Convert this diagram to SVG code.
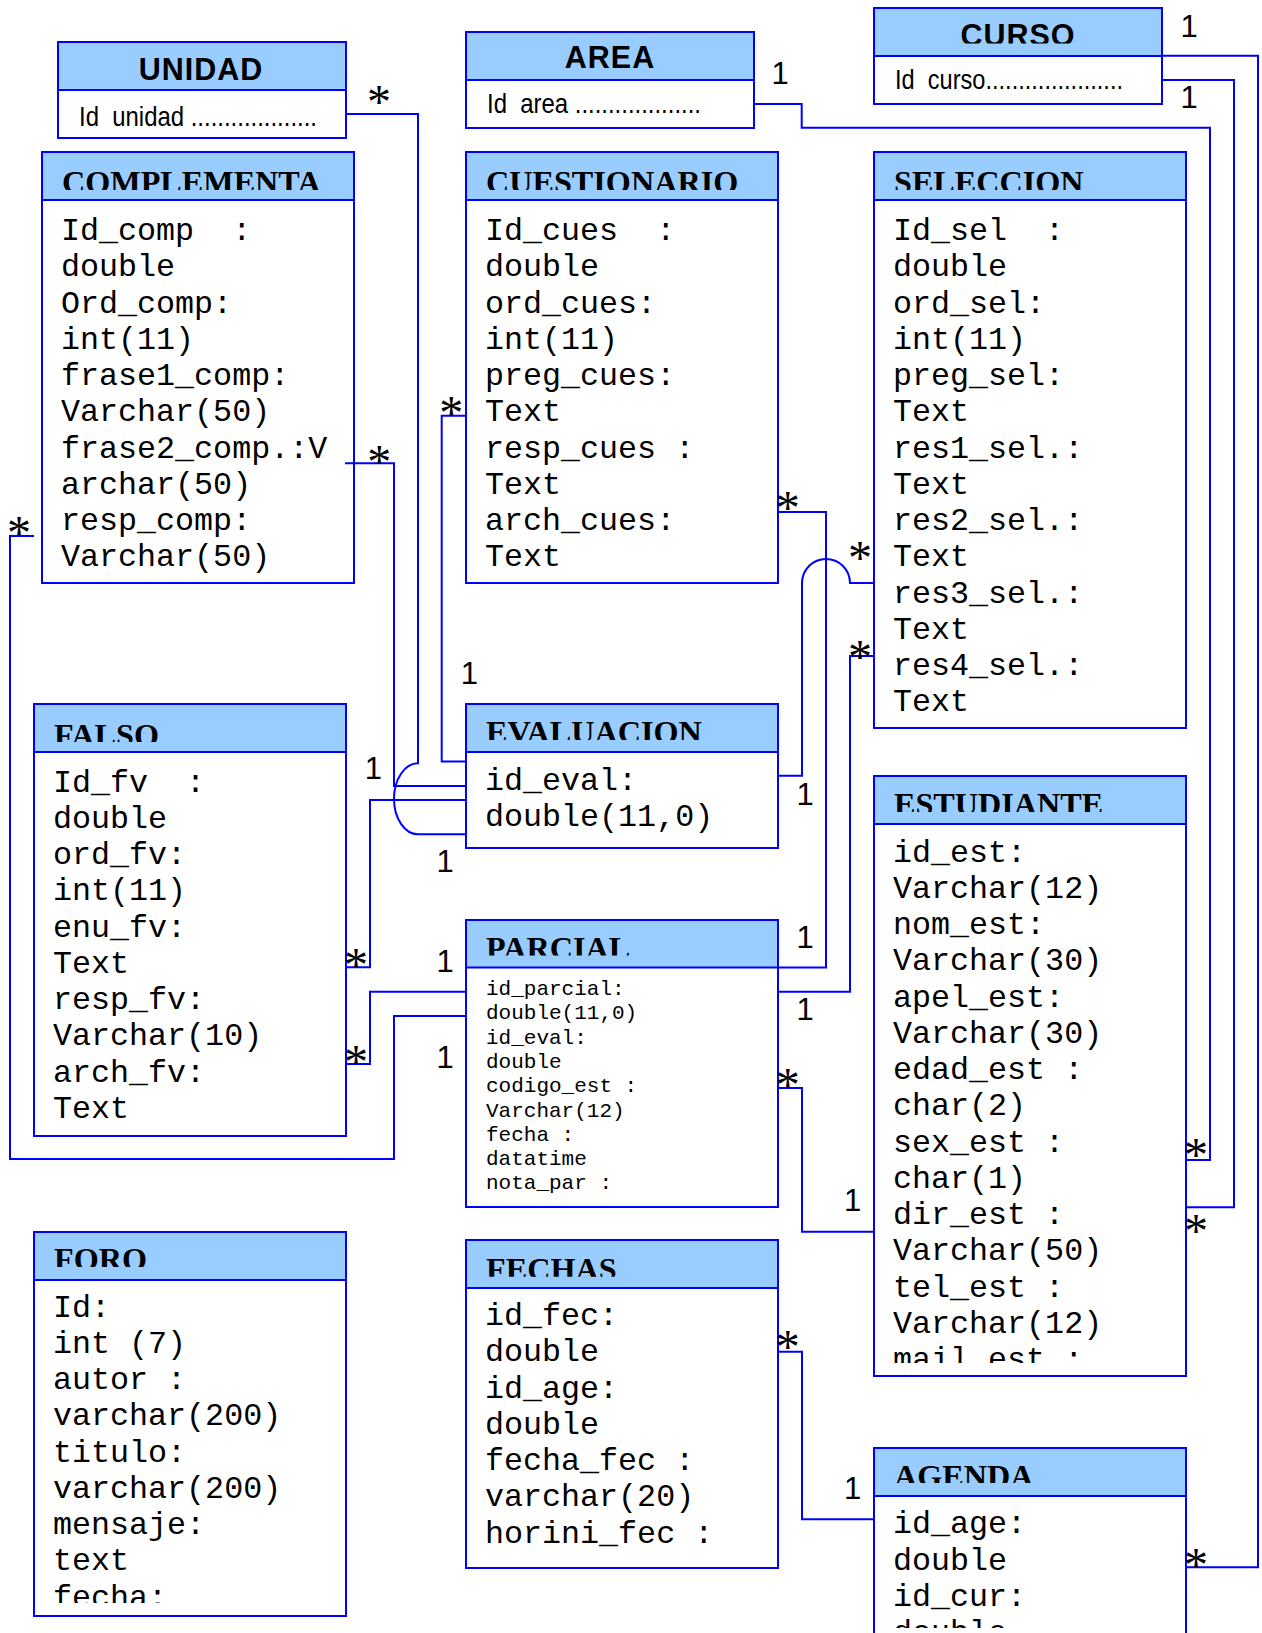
<svg xmlns="http://www.w3.org/2000/svg" width="1262" height="1633" viewBox="0 0 1262 1633">
<style>
  .box { fill: #ffffff; stroke: #0000ff; stroke-width: 2; }
  .hdr { fill: #99ccff; stroke: #0000ff; stroke-width: 2; }
  .title { font-family: "Liberation Serif", "Times New Roman", serif; font-weight: bold; font-size: 32.2px; fill: #000; }
  .stitle { font-family: "Liberation Sans", Arial, sans-serif; font-weight: bold; font-size: 30.5px; letter-spacing: 1px; text-anchor: middle; fill: #000; }
  .key { font-family: "Liberation Sans", Arial, sans-serif; font-size: 28px; fill: #000; }
  .field { font-family: "Liberation Mono", "Courier New", monospace; font-size: 31.7px; fill: #000; }
  .small { font-family: "Liberation Mono", "Courier New", monospace; font-size: 21px; fill: #000; }
  .conn { fill: none; stroke: #0000ff; stroke-width: 2; }
  .one { font-family: "Liberation Sans", Arial, sans-serif; font-size: 31px; text-anchor: middle; fill: #000; }
  .many { font-family: "Liberation Serif", "Times New Roman", serif; font-size: 48px; text-anchor: middle; fill: #000; }
</style>
<defs>
  <clipPath id="cp-curso"><rect x="874" y="8" width="288" height="35.5"/></clipPath>
  <clipPath id="cp-complementa"><rect x="42" y="152" width="312" height="38"/></clipPath>
  <clipPath id="cp-cuestionario"><rect x="466" y="152" width="312" height="38"/></clipPath>
  <clipPath id="cp-seleccion"><rect x="874" y="152" width="312" height="38"/></clipPath>
  <clipPath id="cp-falso"><rect x="34" y="704" width="312" height="38"/></clipPath>
  <clipPath id="cp-evaluacion"><rect x="466" y="704" width="312" height="36"/></clipPath>
  <clipPath id="cp-parcial"><rect x="466" y="920" width="312" height="35.5"/></clipPath>
  <clipPath id="cp-estudiante"><rect x="874" y="776" width="312" height="36"/></clipPath>
  <clipPath id="cp-estudiante-body"><rect x="874" y="824" width="312" height="539"/></clipPath>
  <clipPath id="cp-foro"><rect x="34" y="1232" width="312" height="35"/></clipPath>
  <clipPath id="cp-foro-body"><rect x="34" y="1280" width="312" height="323"/></clipPath>
  <clipPath id="cp-fechas"><rect x="466" y="1240" width="312" height="36.7"/></clipPath>
  <clipPath id="cp-agenda"><rect x="874" y="1448" width="312" height="35"/></clipPath>
  <clipPath id="cp-agenda-body"><rect x="874" y="1496" width="312" height="132"/></clipPath>
</defs>

<rect width="1262" height="1633" fill="#ffffff"/>

<g id="unidad">
  <rect class="box" x="58" y="42" width="288" height="96"/>
  <rect class="hdr" x="58" y="42" width="288" height="48"/>
  <text class="stitle" x="201" y="80">UNIDAD</text>
  <text class="key" x="79" y="126" xml:space="preserve" textLength="238" lengthAdjust="spacingAndGlyphs">Id  unidad ...................</text>
</g>

<g id="area">
  <rect class="box" x="466" y="32" width="288" height="96"/>
  <rect class="hdr" x="466" y="32" width="288" height="48"/>
  <text class="stitle" x="610" y="68.3">AREA</text>
  <text class="key" x="487" y="113.3" xml:space="preserve" textLength="214" lengthAdjust="spacingAndGlyphs">Id  area ...................</text>
</g>

<g id="curso">
  <rect class="box" x="874" y="8" width="288" height="96"/>
  <rect class="hdr" x="874" y="8" width="288" height="48"/>
  <text class="stitle" x="1018" y="46" clip-path="url(#cp-curso)">CURSO</text>
  <text class="key" x="895" y="89.3" xml:space="preserve" textLength="228" lengthAdjust="spacingAndGlyphs">Id  curso.....................</text>
</g>

<g id="complementa">
  <rect class="box" x="42" y="152" width="312" height="431"/>
  <rect class="hdr" x="42" y="152" width="312" height="48"/>
  <text class="title" x="62" y="192.5" clip-path="url(#cp-complementa)">COMPLEMENTA</text>
  <text class="field" xml:space="preserve">
    <tspan x="61" y="240">Id_comp  :</tspan>
    <tspan x="61" y="276.25">double</tspan>
    <tspan x="61" y="312.5">Ord_comp:</tspan>
    <tspan x="61" y="348.75">int(11)</tspan>
    <tspan x="61" y="385">frase1_comp:</tspan>
    <tspan x="61" y="421.25">Varchar(50)</tspan>
    <tspan x="61" y="457.5">frase2_comp.:V</tspan>
    <tspan x="61" y="493.75">archar(50)</tspan>
    <tspan x="61" y="530">resp_comp:</tspan>
    <tspan x="61" y="566.25">Varchar(50)</tspan>
  </text>
</g>

<g id="cuestionario">
  <rect class="box" x="466" y="152" width="312" height="431"/>
  <rect class="hdr" x="466" y="152" width="312" height="48"/>
  <text class="title" x="486" y="192.5" clip-path="url(#cp-cuestionario)">CUESTIONARIO</text>
  <text class="field" xml:space="preserve">
    <tspan x="485" y="240">Id_cues  :</tspan>
    <tspan x="485" y="276.25">double</tspan>
    <tspan x="485" y="312.5">ord_cues:</tspan>
    <tspan x="485" y="348.75">int(11)</tspan>
    <tspan x="485" y="385">preg_cues:</tspan>
    <tspan x="485" y="421.25">Text</tspan>
    <tspan x="485" y="457.5">resp_cues :</tspan>
    <tspan x="485" y="493.75">Text</tspan>
    <tspan x="485" y="530">arch_cues:</tspan>
    <tspan x="485" y="566.25">Text</tspan>
  </text>
</g>

<g id="seleccion">
  <rect class="box" x="874" y="152" width="312" height="576"/>
  <rect class="hdr" x="874" y="152" width="312" height="48"/>
  <text class="title" x="894" y="192.5" clip-path="url(#cp-seleccion)">SELECCION</text>
  <text class="field" xml:space="preserve">
    <tspan x="893" y="240">Id_sel  :</tspan>
    <tspan x="893" y="276.25">double</tspan>
    <tspan x="893" y="312.5">ord_sel:</tspan>
    <tspan x="893" y="348.75">int(11)</tspan>
    <tspan x="893" y="385">preg_sel:</tspan>
    <tspan x="893" y="421.25">Text</tspan>
    <tspan x="893" y="457.5">res1_sel.:</tspan>
    <tspan x="893" y="493.75">Text</tspan>
    <tspan x="893" y="530">res2_sel.:</tspan>
    <tspan x="893" y="566.25">Text</tspan>
    <tspan x="893" y="602.5">res3_sel.:</tspan>
    <tspan x="893" y="638.75">Text</tspan>
    <tspan x="893" y="675">res4_sel.:</tspan>
    <tspan x="893" y="711.25">Text</tspan>
  </text>
</g>

<g id="falso">
  <rect class="box" x="34" y="704" width="312" height="432"/>
  <rect class="hdr" x="34" y="704" width="312" height="48"/>
  <text class="title" x="54" y="745.5" clip-path="url(#cp-falso)">FALSO</text>
  <text class="field" xml:space="preserve">
    <tspan x="53" y="791.7">Id_fv  :</tspan>
    <tspan x="53" y="827.95">double</tspan>
    <tspan x="53" y="864.2">ord_fv:</tspan>
    <tspan x="53" y="900.45">int(11)</tspan>
    <tspan x="53" y="936.7">enu_fv:</tspan>
    <tspan x="53" y="972.95">Text</tspan>
    <tspan x="53" y="1009.2">resp_fv:</tspan>
    <tspan x="53" y="1045.45">Varchar(10)</tspan>
    <tspan x="53" y="1081.7">arch_fv:</tspan>
    <tspan x="53" y="1117.95">Text</tspan>
  </text>
</g>

<g id="evaluacion">
  <rect class="box" x="466" y="704" width="312" height="144"/>
  <rect class="hdr" x="466" y="704" width="312" height="48"/>
  <text class="title" x="486" y="742.5" clip-path="url(#cp-evaluacion)">EVALUACION</text>
  <text class="field">
    <tspan x="485" y="789.5">id_eval:</tspan>
    <tspan x="485" y="826">double(11,0)</tspan>
  </text>
</g>

<g id="parcial">
  <rect class="box" x="466" y="920" width="312" height="287"/>
  <rect class="hdr" x="466" y="920" width="312" height="47.5"/>
  <text class="title" x="486" y="958.5" clip-path="url(#cp-parcial)">PARCIAL</text>
  <text class="small" xml:space="preserve">
    <tspan x="486" y="995">id_parcial:</tspan>
    <tspan x="486" y="1019.3">double(11,0)</tspan>
    <tspan x="486" y="1043.6">id_eval:</tspan>
    <tspan x="486" y="1067.9">double</tspan>
    <tspan x="486" y="1092.2">codigo_est :</tspan>
    <tspan x="486" y="1116.5">Varchar(12)</tspan>
    <tspan x="486" y="1140.8">fecha :</tspan>
    <tspan x="486" y="1165.1">datatime</tspan>
    <tspan x="486" y="1189.4">nota_par :</tspan>
  </text>
</g>

<g id="estudiante">
  <rect class="box" x="874" y="776" width="312" height="600"/>
  <rect class="hdr" x="874" y="776" width="312" height="48"/>
  <text class="title" x="894" y="815" clip-path="url(#cp-estudiante)">ESTUDIANTE</text>
  <text class="field" xml:space="preserve" clip-path="url(#cp-estudiante-body)">
    <tspan x="893" y="861.7">id_est:</tspan>
    <tspan x="893" y="897.95">Varchar(12)</tspan>
    <tspan x="893" y="934.2">nom_est:</tspan>
    <tspan x="893" y="970.45">Varchar(30)</tspan>
    <tspan x="893" y="1006.7">apel_est:</tspan>
    <tspan x="893" y="1042.95">Varchar(30)</tspan>
    <tspan x="893" y="1079.2">edad_est :</tspan>
    <tspan x="893" y="1115.45">char(2)</tspan>
    <tspan x="893" y="1151.7">sex_est :</tspan>
    <tspan x="893" y="1187.95">char(1)</tspan>
    <tspan x="893" y="1224.2">dir_est :</tspan>
    <tspan x="893" y="1260.45">Varchar(50)</tspan>
    <tspan x="893" y="1296.7">tel_est :</tspan>
    <tspan x="893" y="1332.95">Varchar(12)</tspan>
    <tspan x="893" y="1369.2">mail_est :</tspan>
  </text>
</g>

<g id="foro">
  <rect class="box" x="34" y="1232" width="312" height="384"/>
  <rect class="hdr" x="34" y="1232" width="312" height="48"/>
  <text class="title" x="54" y="1270" clip-path="url(#cp-foro)">FORO</text>
  <text class="field" xml:space="preserve" clip-path="url(#cp-foro-body)">
    <tspan x="53" y="1316.7">Id:</tspan>
    <tspan x="53" y="1352.95">int (7)</tspan>
    <tspan x="53" y="1389.2">autor :</tspan>
    <tspan x="53" y="1425.45">varchar(200)</tspan>
    <tspan x="53" y="1461.7">titulo:</tspan>
    <tspan x="53" y="1497.95">varchar(200)</tspan>
    <tspan x="53" y="1534.2">mensaje:</tspan>
    <tspan x="53" y="1570.45">text</tspan>
    <tspan x="53" y="1606.7">fecha:</tspan>
  </text>
</g>

<g id="fechas">
  <rect class="box" x="466" y="1240" width="312" height="328"/>
  <rect class="hdr" x="466" y="1240" width="312" height="48"/>
  <text class="title" x="486" y="1279.5" clip-path="url(#cp-fechas)">FECHAS</text>
  <text class="field" xml:space="preserve">
    <tspan x="485" y="1325">id_fec:</tspan>
    <tspan x="485" y="1361.25">double</tspan>
    <tspan x="485" y="1397.5">id_age:</tspan>
    <tspan x="485" y="1433.75">double</tspan>
    <tspan x="485" y="1470">fecha_fec :</tspan>
    <tspan x="485" y="1506.25">varchar(20)</tspan>
    <tspan x="485" y="1542.5">horini_fec :</tspan>
  </text>
</g>

<g id="agenda">
  <rect class="box" x="874" y="1448" width="312" height="200"/>
  <rect class="hdr" x="874" y="1448" width="312" height="48"/>
  <text class="title" x="894" y="1486.5" clip-path="url(#cp-agenda)">AGENDA</text>
  <text class="field" xml:space="preserve" clip-path="url(#cp-agenda-body)">
    <tspan x="893" y="1533.3">id_age:</tspan>
    <tspan x="893" y="1569.55">double</tspan>
    <tspan x="893" y="1605.8">id_cur:</tspan>
    <tspan x="893" y="1642.05">double</tspan>
  </text>
</g>

<g id="connectors">
  <!-- UNIDAD to EVALUACION, hopping over the two crossing lines -->
  <path class="conn" d="M346,114 H418 V763.3 A24,35.5 0 0 0 418,834.3 H466"/>
  <!-- COMPLEMENTA to EVALUACION -->
  <path class="conn" d="M345,463.3 H394 V786 H466"/>
  <!-- COMPLEMENTA to PARCIAL -->
  <path class="conn" d="M34,536 H10 V1159 H394 V1016 H466"/>
  <!-- CUESTIONARIO to EVALUACION -->
  <path class="conn" d="M466,415.7 H441.7 V761.6 H466"/>
  <!-- CUESTIONARIO to PARCIAL -->
  <path class="conn" d="M778,512 H826 V967.5 H778"/>
  <!-- FALSO to EVALUACION -->
  <path class="conn" d="M346,967.3 H370 V800 H466"/>
  <!-- FALSO to PARCIAL -->
  <path class="conn" d="M346,1064 H370 V991.7 H466"/>
  <!-- EVALUACION to SELECCION, hopping over the CUESTIONARIO line -->
  <path class="conn" d="M778,775.7 H802 V583 A24,24 0 0 1 850,583 H874"/>
  <!-- SELECCION to PARCIAL -->
  <path class="conn" d="M874,656 H850 V991.7 H778"/>
  <!-- PARCIAL to ESTUDIANTE -->
  <path class="conn" d="M778,1088 H802 V1231.7 H874"/>
  <!-- FECHAS to AGENDA -->
  <path class="conn" d="M778,1351.7 H802 V1519.3 H874"/>
  <!-- AREA to ESTUDIANTE -->
  <path class="conn" d="M754,104 H801.7 V127.7 H1210 V1160 H1186"/>
  <!-- CURSO to ESTUDIANTE -->
  <path class="conn" d="M1162,80 H1234 V1207.3 H1186"/>
  <!-- CURSO to AGENDA -->
  <path class="conn" d="M1162,55.7 H1258 V1567.3 H1186"/>

  <!-- multiplicities: one -->
  <text class="one" x="780" y="84.3">1</text>
  <text class="one" x="1189" y="36.5">1</text>
  <text class="one" x="1189" y="107.7">1</text>
  <text class="one" x="469.3" y="684.3">1</text>
  <text class="one" x="373.3" y="779.3">1</text>
  <text class="one" x="445" y="871.8">1</text>
  <text class="one" x="805" y="804.6">1</text>
  <text class="one" x="805" y="947.5">1</text>
  <text class="one" x="805" y="1019.8">1</text>
  <text class="one" x="445" y="971.6">1</text>
  <text class="one" x="445" y="1068">1</text>
  <text class="one" x="852.7" y="1211">1</text>
  <text class="one" x="852.7" y="1499.3">1</text>

  <!-- multiplicities: many -->
  <text class="many" x="379" y="118">*</text>
  <text class="many" x="379.3" y="477.7">*</text>
  <text class="many" x="19" y="549.3">*</text>
  <text class="many" x="451.3" y="429.3">*</text>
  <text class="many" x="787.7" y="524.3">*</text>
  <text class="many" x="860" y="574.3">*</text>
  <text class="many" x="860" y="672.7">*</text>
  <text class="many" x="356" y="981">*</text>
  <text class="many" x="356" y="1077.7">*</text>
  <text class="many" x="787.7" y="1100.5">*</text>
  <text class="many" x="787.7" y="1362.7">*</text>
  <text class="many" x="1196" y="1171">*</text>
  <text class="many" x="1196" y="1247">*</text>
  <text class="many" x="1196" y="1581">*</text>
</g>
</svg>
